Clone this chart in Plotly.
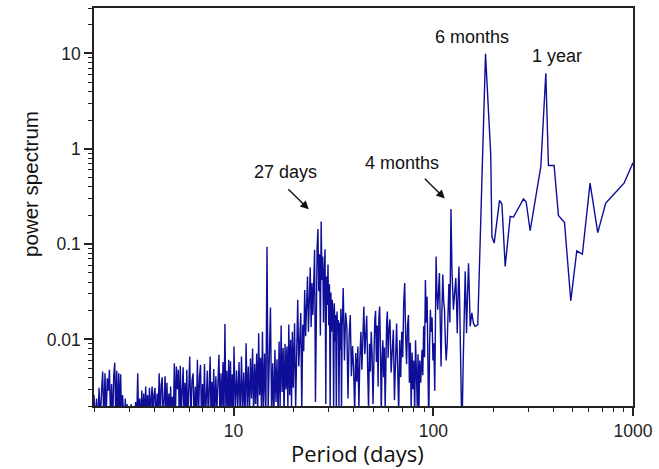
import math
import plotly.graph_objects as go

# ---- data: (period in days, power), band by band ----
band_2_3 = [(2.00, 0.0026), (2.03, 0.0013), (2.06, 0.0024), (2.09, 0.0012), (2.12, 0.0031),
            (2.15, 0.0014), (2.18, 0.0027), (2.21, 0.0046), (2.24, 0.0013), (2.27, 0.0044),
            (2.30, 0.0015), (2.33, 0.0039), (2.36, 0.0029), (2.39, 0.0048), (2.42, 0.0014),
            (2.45, 0.0034), (2.48, 0.0012), (2.51, 0.0041), (2.54, 0.0057), (2.57, 0.0015),
            (2.60, 0.0047), (2.63, 0.0013), (2.66, 0.0044), (2.69, 0.0016), (2.72, 0.0043),
            (2.75, 0.0013), (2.78, 0.0026), (2.81, 0.0014), (2.84, 0.0012), (2.87, 0.0024),
            (2.90, 0.0011), (2.93, 0.0021), (2.96, 0.0011), (2.99, 0.0018)]

band_3_4 = [(3.03, 0.0014), (3.07, 0.0021), (3.11, 0.0012), (3.15, 0.0019), (3.19, 0.0011),
            (3.23, 0.0022), (3.27, 0.0013), (3.31, 0.0044), (3.35, 0.0013), (3.39, 0.0024),
            (3.43, 0.0012), (3.47, 0.0029), (3.51, 0.0014), (3.55, 0.0027), (3.59, 0.0013),
            (3.63, 0.0032), (3.67, 0.0015), (3.71, 0.0026), (3.75, 0.0013), (3.79, 0.0031),
            (3.83, 0.0012), (3.87, 0.0025), (3.91, 0.0032), (3.95, 0.0013), (3.99, 0.0026)]

band_4_5 = [(4.04, 0.0031), (4.09, 0.0013), (4.14, 0.0027), (4.19, 0.0016), (4.24, 0.0044),
            (4.29, 0.0014), (4.34, 0.0033), (4.39, 0.0040), (4.44, 0.0013), (4.49, 0.0029),
            (4.54, 0.0041), (4.59, 0.0015), (4.64, 0.0035), (4.69, 0.0012), (4.74, 0.0027),
            (4.79, 0.0014), (4.84, 0.0032), (4.89, 0.0013), (4.94, 0.0025), (4.99, 0.0013)]

band_5_6 = [(5.05, 0.0056), (5.11, 0.0014), (5.17, 0.0052), (5.23, 0.0030), (5.29, 0.0048),
            (5.35, 0.0014), (5.41, 0.0053), (5.47, 0.0016), (5.53, 0.0039), (5.59, 0.0051),
            (5.65, 0.0013), (5.71, 0.0035), (5.77, 0.0015), (5.83, 0.0048), (5.89, 0.0013),
            (5.95, 0.0031)]

band_6_8 = [(6.03, 0.0066), (6.11, 0.0014), (6.19, 0.0037), (6.27, 0.0044), (6.35, 0.0013),
            (6.43, 0.0032), (6.51, 0.0016), (6.59, 0.0061), (6.67, 0.0014), (6.75, 0.0040),
            (6.83, 0.0054), (6.91, 0.0013), (6.99, 0.0034), (7.07, 0.0017), (7.15, 0.0055),
            (7.23, 0.0014), (7.31, 0.0038), (7.39, 0.0047), (7.47, 0.0013), (7.55, 0.0031),
            (7.63, 0.0066), (7.71, 0.0015), (7.79, 0.0036), (7.87, 0.0013), (7.95, 0.0049)]

band_8_10 = [(8.05, 0.0015), (8.15, 0.0041), (8.25, 0.0018), (8.35, 0.0052), (8.45, 0.0069),
             (8.55, 0.0014), (8.65, 0.0044), (8.75, 0.0017), (8.85, 0.0058), (8.95, 0.0015),
             (9.05, 0.0145), (9.15, 0.0019), (9.25, 0.0047), (9.35, 0.0014), (9.45, 0.0061),
             (9.55, 0.0018), (9.65, 0.0059), (9.75, 0.0014), (9.85, 0.0043), (9.95, 0.0016)]

band_10_14 = [(10.05, 0.0084), (10.20, 0.0016), (10.35, 0.0047), (10.50, 0.0019), (10.65, 0.0058),
              (10.80, 0.0014), (10.95, 0.0066), (11.10, 0.0018), (11.25, 0.0045), (11.40, 0.0013),
              (11.55, 0.0091), (11.70, 0.0020), (11.85, 0.0052), (12.00, 0.0015), (12.15, 0.0063),
              (12.30, 0.0024), (12.45, 0.0080), (12.60, 0.0015), (12.75, 0.0055), (12.90, 0.0021),
              (13.05, 0.0071), (13.20, 0.0016), (13.35, 0.0116), (13.50, 0.0026), (13.65, 0.0064),
              (13.80, 0.0017), (13.95, 0.0120)]

band_14_20 = [(14.1, 0.0018), (14.3, 0.0071), (14.5, 0.0015), (14.7, 0.0940), (14.9, 0.0019),
              (15.1, 0.0058), (15.3, 0.0216), (15.5, 0.0016), (15.7, 0.0056), (15.9, 0.0014),
              (16.1, 0.0078), (16.3, 0.0022), (16.5, 0.0062), (16.7, 0.0015), (16.9, 0.0095),
              (17.1, 0.0019), (17.3, 0.0140), (17.5, 0.0028), (17.7, 0.0081), (17.9, 0.0016),
              (18.1, 0.0090), (18.3, 0.0030), (18.5, 0.0084), (18.7, 0.0019), (18.9, 0.0143),
              (19.1, 0.0026), (19.3, 0.0099), (19.5, 0.0020), (19.7, 0.0120), (19.9, 0.0031)]

band_20_35 = [(20.20, 0.0148), (20.45, 0.0019), (20.70, 0.0112), (20.95, 0.0260), (21.20, 0.0052),
              (21.45, 0.0134), (21.70, 0.0189), (21.95, 0.0017), (22.20, 0.0142), (22.45, 0.0075),
              (22.70, 0.0330), (22.95, 0.0108), (23.20, 0.0215), (23.45, 0.0457), (23.70, 0.0120),
              (23.95, 0.0290), (24.20, 0.0570), (24.45, 0.0135), (24.70, 0.0390), (24.95, 0.0180),
              (25.20, 0.0520), (25.45, 0.0870), (25.70, 0.0022), (25.95, 0.0480), (26.20, 0.0950),
              (26.45, 0.1440), (26.70, 0.0320), (26.95, 0.0780), (27.20, 0.0110), (27.45, 0.1730),
              (27.70, 0.0420), (27.95, 0.0740), (28.20, 0.0150), (28.45, 0.0520), (28.70, 0.0880),
              (28.95, 0.0021), (29.20, 0.0457), (29.45, 0.0230), (29.70, 0.0610), (29.95, 0.0140),
              (30.20, 0.0380), (30.45, 0.0019), (30.70, 0.0310), (30.95, 0.0120), (31.20, 0.0260),
              (31.45, 0.0189), (31.70, 0.0018), (31.95, 0.0240), (32.20, 0.0095), (32.45, 0.0180),
              (32.70, 0.0016), (32.95, 0.0196), (33.20, 0.0120), (33.45, 0.0160), (33.70, 0.0020),
              (33.95, 0.0150), (34.20, 0.0078), (34.45, 0.0210), (34.70, 0.0017), (34.95, 0.0130)]

band_35_60 = [(35.4, 0.0345), (35.9, 0.0060), (36.4, 0.0190), (36.9, 0.0137), (37.4, 0.0024),
              (37.9, 0.0110), (38.4, 0.0180), (38.9, 0.0041), (39.4, 0.0085), (39.9, 0.0050),
              (40.4, 0.0017), (40.9, 0.0072), (41.4, 0.0036), (41.9, 0.0084), (42.4, 0.0019),
              (42.9, 0.0065), (43.4, 0.0120), (43.9, 0.0048), (44.4, 0.0160), (44.9, 0.0221),
              (45.4, 0.0070), (45.9, 0.0130), (46.4, 0.0177), (46.9, 0.0052), (47.4, 0.0018),
              (47.9, 0.0090), (48.4, 0.0046), (48.9, 0.0120), (49.4, 0.0068), (49.9, 0.0021),
              (50.4, 0.0105), (50.9, 0.0155), (51.4, 0.0200), (51.9, 0.0058), (52.4, 0.0140),
              (52.9, 0.0032), (53.4, 0.0170), (53.9, 0.0221), (54.4, 0.0075), (54.9, 0.0016),
              (55.4, 0.0062), (55.9, 0.0098), (56.4, 0.0040), (56.9, 0.0082), (57.4, 0.0019),
              (57.9, 0.0110), (58.4, 0.0150), (58.9, 0.0196), (59.4, 0.0064), (59.9, 0.0120)]

band_60_86 = [(60.7, 0.0162), (61.5, 0.0045), (62.3, 0.0090), (63.1, 0.0126), (63.9, 0.0023),
              (64.7, 0.0080), (65.5, 0.0147), (66.3, 0.0050), (67.1, 0.0017), (67.9, 0.0098),
              (68.7, 0.0040), (69.5, 0.0120), (70.3, 0.0065), (71.1, 0.0240), (71.9, 0.0390),
              (72.7, 0.0110), (73.5, 0.0055), (74.3, 0.0140), (75.1, 0.0180), (75.9, 0.0035),
              (76.7, 0.0092), (77.5, 0.0018), (78.3, 0.0073), (79.1, 0.0030), (79.9, 0.0060),
              (80.7, 0.0016), (81.5, 0.0098), (82.3, 0.0045), (83.1, 0.0020), (83.9, 0.0070),
              (84.7, 0.0016), (85.5, 0.0060)]

band_86_170 = [(86.5, 0.0035), (87.8, 0.0078), (88.6, 0.0042), (89.5, 0.0137), (90.4, 0.0065),
               (91.3, 0.0420), (92.2, 0.0150), (93.1, 0.0280), (94.0, 0.0090), (94.9, 0.0012),
               (95.8, 0.0085), (96.7, 0.0205), (97.6, 0.0120), (98.6, 0.0170), (99.6, 0.0060),
               (100.6, 0.0091), (101.7, 0.0029), (103.3, 0.0740), (104.3, 0.0300), (105.3, 0.0205),
               (106.3, 0.0330), (107.3, 0.0496), (108.4, 0.0140), (109.4, 0.0052), (110.5, 0.0210),
               (111.6, 0.0480), (112.7, 0.0250), (113.8, 0.0205), (115.0, 0.0090), (116.0, 0.0060),
               (117.4, 0.0091), (118.5, 0.0200), (119.7, 0.0380), (121.1, 0.0150), (122.6, 0.2330),
               (124.0, 0.0530), (125.0, 0.0300), (126.1, 0.0205), (127.8, 0.0300), (129.6, 0.0440),
               (130.7, 0.0250), (131.8, 0.0116), (133.1, 0.0300), (134.4, 0.0580), (135.3, 0.0300),
               (136.2, 0.0160), (137.6, 0.0050), (139.1, 0.0010), (141.0, 0.0050), (142.8, 0.0200),
               (144.5, 0.0520), (145.6, 0.0250), (146.7, 0.0116), (148.4, 0.0300), (150.1, 0.0630),
               (151.6, 0.0300), (153.0, 0.0137), (155.9, 0.0190), (158.8, 0.0148), (161.9, 0.0137),
               (167.0, 0.0142)]

band_long = [(182.6, 9.90), (193.9, 0.865), (196.6, 0.120), (201.8, 0.1025), (214.6, 0.287),
             (220.6, 0.263), (229.1, 0.0582), (242.7, 0.195), (252.1, 0.192), (282.8, 0.297),
             (291.7, 0.278), (305.5, 0.138), (345.5, 0.652), (366.0, 6.20), (377.2, 0.668),
             (402.7, 0.668), (423.2, 0.200), (454.0, 0.168), (488.1, 0.0254), (523.0, 0.085),
             (557.9, 0.0785), (609.5, 0.436), (666.2, 0.132), (730.3, 0.269), (812.8, 0.343),
             (901.6, 0.435), (1000.0, 0.713)]

bands = [band_2_3, band_3_4, band_4_5, band_5_6, band_6_8, band_8_10, band_10_14,
         band_14_20, band_20_35, band_35_60, band_60_86, band_86_170, band_long]

period = [p for band in bands for p, _ in band]
power = [v for band in bands for _, v in band]

# tick labels
x_tick_vals = [10, 100, 1000]
x_tick_text = ["10", "100", "1000"]
y_tick_vals = [0.01, 0.1, 1, 10]
y_tick_text = ["0.01", "0.1", "1", "10"]

# peak labels: (text, period, power) anchor of the label centre
labels = [("27 days", 18.2, 0.574), ("4 months", 70.0, 0.713),
          ("6 months", 156.7, 14.97), ("1 year", 415.4, 9.37)]
# arrows: (period, power) of the arrow tip, pixel offset of the tail
arrows = [(23.8, 0.232, -22, -21.5), (114.2, 0.301, -21.5, -21.2)]

LINE = "#0e0e98"
AX = "#222222"

fig = go.Figure()
fig.add_trace(go.Scatter(x=period, y=power, mode="lines",
                         line=dict(color=LINE, width=1.4), hoverinfo="skip"))

x_minor = [m * 10 ** e for e in range(0, 3) for m in range(2, 10)]
y_minor = [m * 10.0 ** e for e in range(-3, 2) for m in range(2, 10) if m * 10.0 ** e < 31]

tickfont = dict(family="Arial, Liberation Sans, sans-serif", size=17.5, color=AX)

fig.update_xaxes(type="log", range=[math.log10(2), 3], automargin=False,
                 tickmode="array", tickvals=x_tick_vals, ticktext=x_tick_text,
                 ticks="outside", ticklen=8, tickwidth=1.5, tickcolor=AX,
                 showline=True, linecolor=AX, linewidth=1.5, mirror=True,
                 showgrid=False, zeroline=False, tickfont=tickfont,
                 minor=dict(tickvals=x_minor, ticks="outside", ticklen=4,
                            tickwidth=1.2, tickcolor=AX, showgrid=False))
fig.update_yaxes(type="log", range=[math.log10(0.002), math.log10(30)], automargin=False,
                 tickmode="array", tickvals=y_tick_vals, ticktext=y_tick_text,
                 ticks="outside", ticklen=8, tickwidth=1.5, tickcolor=AX,
                 showline=True, linecolor=AX, linewidth=1.5, mirror=True,
                 showgrid=False, zeroline=False, tickfont=tickfont,
                 minor=dict(tickvals=y_minor, ticks="outside", ticklen=4,
                            tickwidth=1.2, tickcolor=AX, showgrid=False))

annotations = []
for text, px, py in labels:
    annotations.append(dict(text=text, x=math.log10(px), y=math.log10(py),
                            xref="x", yref="y", showarrow=False,
                            xanchor="center", yanchor="middle",
                            font=dict(family="Arial, Liberation Sans, sans-serif",
                                      size=18, color="#111111")))
for px, py, ax, ay in arrows:
    annotations.append(dict(text="", x=math.log10(px), y=math.log10(py),
                            xref="x", yref="y", showarrow=True, ax=ax, ay=ay,
                            arrowhead=2, arrowsize=1.2, arrowwidth=1.4,
                            arrowcolor="#111111"))
annotations.append(dict(text="power spectrum", xref="paper", yref="paper",
                        x=-0.118, y=0.559, textangle=-90, showarrow=False,
                        xanchor="center", yanchor="middle",
                        font=dict(family="Arial, Liberation Sans, sans-serif",
                                  size=20.5, color="#111111")))
annotations.append(dict(text="Period (days)", xref="paper", yref="paper",
                        x=0.4883, y=-0.158, showarrow=False, borderpad=0,
                        xanchor="center", yanchor="bottom",
                        font=dict(family="Open Sans, sans-serif", size=22,
                                  color="#111111")))

fig.update_layout(width=659, height=469,
                  margin=dict(l=94, r=26, t=8, b=63),
                  plot_bgcolor="white", paper_bgcolor="white",
                  showlegend=False, annotations=annotations)

# the page body has a default 8px margin; remove it so the figure fills the window
fig.write_html("out.html", config={"displayModeBar": False},
               post_script="document.body.style.margin='0';document.body.style.overflow='hidden';")
